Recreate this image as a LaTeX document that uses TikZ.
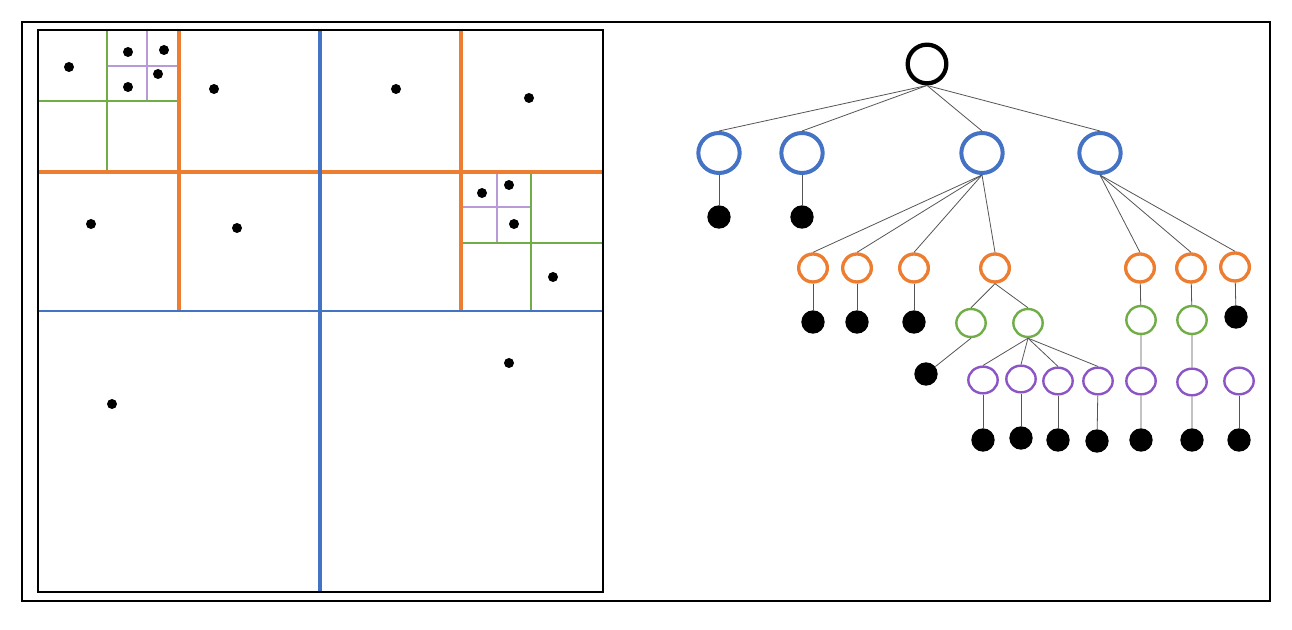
\documentclass[tikz,border=0pt]{standalone}
\usetikzlibrary{shapes.geometric}

\definecolor{qblue}{HTML}{4472C4}
\definecolor{qorange}{HTML}{ED7D31}
\definecolor{qgreen}{HTML}{70AD47}
\definecolor{qpurple}{HTML}{8B55C6}
\definecolor{qlilac}{HTML}{B99AD9}
\definecolor{qedge}{HTML}{555555}

\tikzset{
  tnode/.style={ellipse, draw, fill=white, inner sep=0pt},
  rootnode/.style={tnode, line width=3.2pt, minimum width=29pt, minimum height=29pt},
  bluenode/.style={tnode, draw=qblue, line width=3pt, minimum width=31pt, minimum height=30pt},
  orangenode/.style={tnode, draw=qorange, line width=2.5pt, minimum width=21.5pt, minimum height=21pt},
  greennode/.style={tnode, draw=qgreen, line width=1.8pt, minimum width=22pt, minimum height=21pt},
  purplenode/.style={tnode, draw=qpurple, line width=1.8pt, minimum width=22pt, minimum height=20pt},
  leaf/.style={circle, fill=black, inner sep=0pt, minimum size=17.5pt},
  pt/.style={circle, fill=black, inner sep=0pt, minimum size=7.5pt},
  tedge/.style={draw=qedge, line width=0.6pt}
}

\begin{document}
\begin{tikzpicture}[x=0.75pt, y=-0.75pt]
  \useasboundingbox (0,0) rectangle (1292,630);
  % outer frame
  \draw[line width=1.2pt] (22,22) rectangle (1270,601);

  % quadtree
  \draw[qlilac, line width=1pt] (147,30) -- (147,101) (107,66) -- (179,66);
  \draw[qlilac, line width=1pt] (497,172) -- (497,243) (461,207) -- (531,207);
  \draw[qgreen, line width=2pt] (107,30) -- (107,172) (38,101) -- (179,101);
  \draw[qgreen, line width=2pt] (531,172) -- (531,311) (461,243) -- (603,243);
  \draw[qorange, line width=2.8pt] (38,172) -- (603,172);
  \draw[qorange, line width=2.8pt] (179,30) -- (179,311) (461,30) -- (461,311);
  \draw[qblue, line width=1.8pt] (38,311) -- (603,311);
  \draw[qblue, line width=3pt] (320,30) -- (320,592);
  \draw[line width=1.2pt] (38,30) rectangle (603,592);

  % points
  \foreach \px/\py in {69/67, 128/52, 164/50, 158/74, 128/87, 214/89, 396/89,
      529/98, 482/193, 509/185, 514/224, 553/277, 91/224, 237/228, 509/363, 112/404}
    \node[pt] at (\px,\py) {};

  % tree nodes
  \node[rootnode] (root) at (927,64) {};

  \node[bluenode] (b1) at (719,153) {};
  \node[bluenode] (b2) at (802,153) {};
  \node[bluenode] (b3) at (982,153) {};
  \node[bluenode] (b4) at (1100,153) {};

  \node[orangenode] (o1) at (813,268) {};
  \node[orangenode] (o2) at (857,268) {};
  \node[orangenode] (o3) at (914,268) {};
  \node[orangenode] (o4) at (995,268) {};
  \node[orangenode] (o5) at (1140,268) {};
  \node[orangenode] (o6) at (1191,268) {};
  \node[orangenode] (o7) at (1235,267) {};

  \node[greennode] (g1) at (971,323) {};
  \node[greennode] (g2) at (1028,323) {};
  \node[greennode] (g3) at (1141,320) {};
  \node[greennode] (g4) at (1192,320) {};

  \node[purplenode] (p1) at (983,380) {};
  \node[purplenode] (p2) at (1021,379) {};
  \node[purplenode] (p3) at (1058,381) {};
  \node[purplenode] (p4) at (1098,381) {};
  \node[purplenode] (p5) at (1141,381) {};
  \node[purplenode] (p6) at (1192,382) {};
  \node[purplenode] (p7) at (1239,381) {};

  \node[leaf] (l1) at (719,217) {};
  \node[leaf] (l2) at (802,217) {};
  \node[leaf] (l3) at (813,322) {};
  \node[leaf] (l4) at (857,322) {};
  \node[leaf] (l5) at (914,322) {};
  \node[leaf] (l6) at (1236,317) {};
  \node[leaf] (l7) at (926,374) {};
  \node[leaf] (l8) at (983,440) {};
  \node[leaf] (l9) at (1021,438) {};
  \node[leaf] (l10) at (1058,440) {};
  \node[leaf] (l11) at (1097,441) {};
  \node[leaf] (l12) at (1141,440) {};
  \node[leaf] (l13) at (1192,440) {};
  \node[leaf] (l14) at (1239,440) {};

  % edges
  \foreach \c in {b1,b2,b3,b4}
    \draw[tedge] (root.south) -- (\c.north);
  \foreach \c in {o1,o2,o3,o4}
    \draw[tedge] (b3.south) -- (\c.north);
  \foreach \c in {o5,o6,o7}
    \draw[tedge] (b4.south) -- (\c.north);
  \foreach \c in {g1,g2}
    \draw[tedge] (o4.south) -- (\c.north);
  \foreach \c in {p1,p2,p3,p4}
    \draw[tedge] (g2.south) -- (\c.north);
  \draw[tedge] (b1) -- (l1);
  \draw[tedge] (b2) -- (l2);
  \draw[tedge] (o1) -- (l3);
  \draw[tedge] (o2) -- (l4);
  \draw[tedge] (o3) -- (l5);
  \draw[tedge] (o7) -- (l6);
  \draw[tedge] (g1.south) -- (l7);
  \draw[tedge] (o5) -- (g3) -- (p5) -- (l12);
  \draw[tedge] (o6) -- (g4) -- (p6) -- (l13);
  \draw[tedge] (p1) -- (l8);
  \draw[tedge] (p2) -- (l9);
  \draw[tedge] (p3) -- (l10);
  \draw[tedge] (p4) -- (l11);
  \draw[tedge] (p7) -- (l14);
\end{tikzpicture}
\end{document}
